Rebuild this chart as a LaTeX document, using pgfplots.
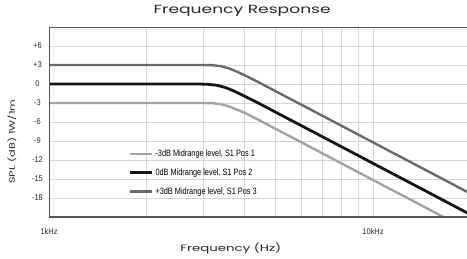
\documentclass[border=0pt]{standalone}
\usepackage{fontspec}
\usepackage{pgfplots}
\pgfplotsset{compat=1.18}
\setmainfont{Liberation Sans}
\newfontfamily\condfont[FakeStretch=0.8]{Liberation Sans}
\newfontfamily\tickfont[FakeStretch=0.9]{Liberation Sans}
\newfontfamily\techfont[FakeStretch=1.45]{Poppins}
\definecolor{lgray}{HTML}{A3A3A3}
\definecolor{dgray}{HTML}{6A6A6A}
\definecolor{blk}{HTML}{161616}
\definecolor{gridc}{HTML}{D6D6D6}
\definecolor{axc}{HTML}{585858}
\begin{document}
\begin{tikzpicture}
\begin{axis}[
  scale only axis,
  width=418pt, height=190pt,
  xmode=log,
  xmin=1000, xmax=19500,
  ymin=-21, ymax=9,
  xtick={1000,10000},
  xticklabels={1kHz,10kHz},
  ytick={-18,-15,-12,-9,-6,-3,0,3,6},
  yticklabels={-18,-15,-12,-9,-6,-3,0,+3,+6},
  major tick length=0pt, minor tick length=0pt,
  xmajorgrids, xminorgrids, ymajorgrids,
  grid style={draw=gridc, line width=0.9pt},
  minor grid style={draw=gridc, line width=0.9pt},
  axis line style={draw=none},
  tick label style={font=\tickfont\fontsize{8.3}{10}\selectfont, text=black!85},
  xticklabel style={yshift=-8pt},
  yticklabel style={text width=14pt, align=center, xshift=-1pt},
  title={\techfont\fontsize{11.8}{13}\selectfont Frequency Response},
  title style={at={(axis description cs:0.462,1.084)}, anchor=center, yshift=-6pt, text=black!85},
  xlabel={\techfont\fontsize{9.2}{10}\selectfont Frequency (Hz)},
  xlabel style={at={(axis description cs:0.435,-0.163)}, anchor=center, text=black!85},
  ylabel={\techfont\fontsize{7.8}{10}\selectfont SPL (dB) 1W/1m},
  ylabel style={at={(axis description cs:-0.0885,0.397)}, anchor=center, text=black!85},
  legend style={draw=none, fill=none, at={(axis description cs:0.183,0.374)}, anchor=north west,
    font=\condfont\fontsize{9.2}{10}\selectfont, row sep=6.5pt},
  legend cell align=left,
  legend image code/.code={\draw[#1] (0pt,0pt) -- (22pt,0pt);},
  clip=true,
]
\coordinate (o) at (rel axis cs:0,0);
\addplot[lgray, line width=2.4pt, line join=round] coordinates {
(1000,-3) (3000,-3) (3200,-3.03) (3400,-3.2) (3600,-3.55) (3800,-4.05) (4000,-4.5)
(4500,-5.83) (5000,-7.07) (6000,-9.19) (8000,-12.55) (10000,-15.16) (15000,-19.89) (20000,-23.26)};
\addlegendentry{-3dB Midrange level, S1 Pos 1}
\addplot[blk, line width=2.8pt, line join=round] coordinates {
(1000,0) (2900,0) (3100,-0.05) (3300,-0.2) (3500,-0.55) (3700,-1.05) (4000,-1.88)
(4500,-3.2) (5000,-4.44) (6000,-6.56) (8000,-9.92) (10000,-12.53) (15000,-17.26) (20000,-20.63)};
\addlegendentry{0dB Midrange level, S1 Pos 2}
\addplot[dgray, line width=2.4pt, line join=round] coordinates {
(1000,3) (3000,3) (3200,2.97) (3400,2.8) (3600,2.45) (3800,1.95) (4000,1.43)
(4500,0.11) (5000,-1.13) (6000,-3.25) (8000,-6.61) (10000,-9.22) (15000,-13.95) (20000,-17.32)};
\addlegendentry{+3dB Midrange level, S1 Pos 3}
\draw[axc, line width=1.3pt] (rel axis cs:1,1) -- (rel axis cs:0,1) -- (rel axis cs:0,0) -- (rel axis cs:1,0);
\end{axis}
\pgfresetboundingbox
\path (o) ++(-49pt,-41pt) rectangle ++(467pt,258pt);
\end{tikzpicture}
\end{document}
